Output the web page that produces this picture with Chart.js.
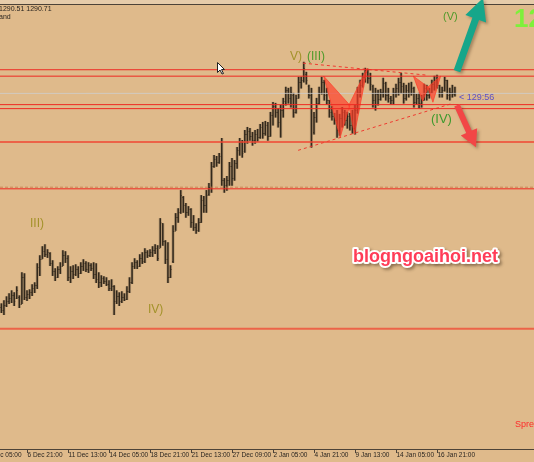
<!DOCTYPE html>
<html>
<head>
<meta charset="utf-8">
<script src="https://cdn.jsdelivr.net/npm/chart.js@4.4.1/dist/chart.umd.min.js"></script>
<style>
html, body { margin: 0; padding: 0; background: #dfba8b; overflow: hidden; }
canvas { display: block; }
</style>
</head>
<body>
<canvas id="chart" width="534" height="462"></canvas>
<script>
// ---------------------------------------- data (gold H4, bar index counted from 4 Dec 05:00) ----------------------------------------
const firstBar = 6;

const opens = [
    1239.5, 1238.75, 1240, 1241, 1241.75, 1242.5, 1241.75, 1242, 1240.25, 1247,
    1242, 1242.75, 1243.25, 1244.25, 1245, 1249.5, 1251.5, 1253.5, 1252.75, 1253,
    1250.5, 1248.5, 1247, 1249, 1249.75, 1252.5, 1251.75, 1247, 1248.5, 1247.75,
    1249, 1248, 1249.75, 1250.5, 1249, 1250, 1249.25, 1247.75, 1246.5, 1245.75,
    1246.75, 1246, 1245.25, 1244.25, 1244.75, 1241, 1242.25, 1241, 1242, 1241.5,
    1243.5, 1245.75, 1249.75, 1250.75, 1249.75, 1251.75, 1251, 1253.25, 1252.5, 1253.25,
    1253.75, 1254.25, 1254.25, 1260.25, 1256, 1251.5, 1247, 1251, 1258.5, 1261.75,
    1263, 1266.75, 1264.75, 1263, 1263.75, 1260.5, 1259.5, 1258.75, 1260.5, 1266,
    1264.75, 1267.5, 1269.25, 1274.5, 1276.25, 1275.5, 1277, 1271, 1269.75, 1271,
    1274.5, 1271.5, 1275.25, 1278.5, 1280.5, 1278.25, 1282.5, 1283.25, 1282, 1281,
    1282.5, 1281.75, 1284.25, 1282.75, 1284.75, 1282, 1287.25, 1289.5, 1288, 1285.5,
    1288.5, 1290.75, 1293.5, 1291.5, 1292.25, 1288, 1291.5, 1295.5, 1296, 1297.5,
    1294.5, 1292.25, 1283, 1286.75, 1290.25, 1293, 1295.5, 1292.25, 1291, 1288,
    1287, 1286, 1283.5, 1286.5, 1288, 1286, 1287, 1284.75, 1284, 1288.5,
    1293, 1294.75, 1296.75, 1298, 1296.5, 1294.5, 1291, 1292.5, 1291.25, 1293,
    1295.25, 1292.25, 1291.5, 1291, 1293, 1294, 1295.5, 1294.5, 1291.5, 1293.5,
    1292.75, 1294, 1290.5, 1291.5, 1290.25, 1291, 1294, 1292.25, 1293, 1295,
    1296, 1294.75, 1293, 1293.5, 1296, 1292.25, 1293, 1292.5
];
const highs = [
    1240.25, 1241, 1242, 1242.75, 1243.5, 1243, 1244.5, 1242.25, 1248, 1247.75,
    1243.5, 1243.75, 1245, 1245.5, 1250.25, 1252.25, 1254.5, 1255, 1253.75, 1253,
    1251, 1249, 1249.5, 1250.5, 1253.5, 1253.25, 1252.25, 1249.5, 1249.75, 1250,
    1249.5, 1250.5, 1251.25, 1250.75, 1250.5, 1250.25, 1250.5, 1250.25, 1248, 1247.25,
    1247, 1246.75, 1246, 1246.25, 1244.75, 1243.5, 1243, 1243.25, 1242.75, 1244.5,
    1246.75, 1250.5, 1251.5, 1251, 1252.5, 1253, 1254, 1253.5, 1253.75, 1254.5,
    1255, 1254.75, 1261.5, 1260.25, 1256, 1255.5, 1249.75, 1259.75, 1262.75, 1264,
    1268.5, 1267, 1265.25, 1264.5, 1264, 1262.25, 1260.25, 1261.5, 1267.25, 1267,
    1268.5, 1270.25, 1275.5, 1277.25, 1277, 1277.75, 1281.5, 1271.5, 1272, 1275.5,
    1276.5, 1276, 1279.25, 1281.5, 1281, 1283.5, 1284.25, 1284, 1283, 1283.5,
    1283.75, 1285, 1285.5, 1285.75, 1285.5, 1288, 1290.5, 1290.25, 1289, 1289.75,
    1291.5, 1294.25, 1294, 1294.25, 1292.75, 1292.25, 1296.75, 1296.75, 1300.5, 1298,
    1294.75, 1294, 1288, 1291.5, 1294.25, 1296.75, 1296, 1294, 1291, 1289.5,
    1287.75, 1288.5, 1287.5, 1289.25, 1288.5, 1288, 1287.75, 1288.5, 1289.75, 1294.25,
    1296, 1297.75, 1299, 1298.75, 1297.75, 1294.75, 1294, 1293.5, 1293.75, 1296.5,
    1295.5, 1294, 1292, 1294, 1295, 1296.5, 1297.75, 1295.25, 1294.75, 1295.25,
    1295.5, 1294.25, 1292.5, 1292.75, 1292.25, 1295, 1294.75, 1294, 1296, 1297,
    1297.25, 1294.75, 1294.25, 1296.75, 1296, 1294, 1294.75, 1294.25
];
const lows = [
    1238, 1237.5, 1239.5, 1240.25, 1240.5, 1239.75, 1241.5, 1239.25, 1240.25, 1241.25,
    1241, 1241.5, 1242.25, 1243, 1244, 1247.25, 1251.5, 1252, 1251.75, 1249.75,
    1247.25, 1246, 1246.75, 1247.75, 1249.75, 1250.5, 1246, 1245.5, 1246.5, 1247.25,
    1246.75, 1247.75, 1248.5, 1248.25, 1248, 1248.5, 1246.5, 1245.5, 1244.25, 1244.5,
    1245.25, 1244.75, 1243.5, 1243.5, 1237.5, 1240.25, 1239.75, 1240.5, 1241, 1241.25,
    1243, 1245.25, 1249, 1249, 1249.5, 1250.25, 1250.5, 1251.75, 1252, 1252,
    1252.75, 1251, 1254.25, 1254.75, 1250.25, 1245.5, 1246.75, 1250.5, 1258.5, 1260.5,
    1262.75, 1263, 1261.75, 1262.25, 1259.25, 1258.5, 1257.75, 1258.25, 1260.5, 1263,
    1263, 1267.25, 1268, 1274.25, 1274.5, 1275.25, 1269.75, 1268, 1268.5, 1269.75,
    1269.75, 1271, 1274, 1277.25, 1276.75, 1278, 1280.25, 1281, 1279.75, 1280.25,
    1280.75, 1281.5, 1281.5, 1282.25, 1281, 1282, 1284.75, 1286.75, 1284.25, 1281.75,
    1286.75, 1289.75, 1290.25, 1289.25, 1286.75, 1287.75, 1291.5, 1294, 1295.5, 1295,
    1291.5, 1279.25, 1282.5, 1285.5, 1290, 1292.5, 1291, 1290, 1286.75, 1286,
    1285, 1281.75, 1282.25, 1284.25, 1284.75, 1284, 1283.5, 1282.75, 1282.5, 1287.75,
    1291.75, 1294.25, 1295.5, 1295.25, 1293.5, 1289.25, 1288.5, 1289.75, 1291, 1291.75,
    1291, 1290.5, 1290, 1290, 1291.75, 1292.25, 1292.75, 1290.25, 1291, 1291.75,
    1292.25, 1289.25, 1290, 1289, 1289.25, 1291, 1291, 1291.5, 1292.75, 1293.5,
    1294, 1291.75, 1291.75, 1293.25, 1291.25, 1291, 1291.75, 1292
];
const closes = [
    1238.75, 1240, 1241, 1241.75, 1242.5, 1241, 1243.75, 1240.25, 1247, 1242,
    1242.75, 1243.25, 1244.25, 1245, 1249.5, 1251.5, 1253.5, 1252.75, 1253.25, 1250.5,
    1248.5, 1247, 1249, 1249.75, 1252.5, 1251.75, 1247, 1248.5, 1247.75, 1249,
    1248, 1249.75, 1250.5, 1249, 1250, 1249.25, 1247.75, 1246.5, 1245.75, 1246.75,
    1246, 1245.25, 1244.25, 1244.75, 1241, 1242.25, 1241, 1242, 1241.5, 1243.5,
    1245.75, 1249.75, 1250.75, 1249.75, 1251.75, 1251, 1253.25, 1252.5, 1253.25, 1253.75,
    1254.25, 1251.75, 1260.5, 1256, 1251.5, 1247, 1249, 1258.5, 1261.75, 1263,
    1267.25, 1264.75, 1263, 1263.75, 1260.5, 1259.5, 1258.75, 1260.5, 1266, 1264.75,
    1267.25, 1269.25, 1274.5, 1276.25, 1275.5, 1277, 1271, 1269.75, 1271, 1274.5,
    1271.5, 1275.25, 1278.5, 1280.5, 1277.75, 1282.5, 1283.25, 1282, 1281, 1282.5,
    1281.75, 1284.25, 1282.75, 1284.75, 1282, 1287.25, 1289.5, 1288, 1285.5, 1288.5,
    1290.75, 1293.5, 1291.5, 1293, 1288, 1291.5, 1295.5, 1296, 1299, 1296,
    1292.25, 1280.5, 1286.75, 1290.25, 1293, 1295.5, 1292.25, 1291, 1288, 1287,
    1286, 1283.5, 1286.5, 1288, 1286, 1287, 1284.75, 1284, 1288.5, 1293,
    1294.75, 1296.75, 1298, 1296.5, 1295, 1291, 1292.5, 1291.25, 1293, 1295.25,
    1292.25, 1291.5, 1291, 1293, 1294, 1295.5, 1294.5, 1291.5, 1293.5, 1292.75,
    1294, 1290.5, 1291.5, 1290.25, 1291, 1294, 1292.25, 1293, 1295, 1296,
    1294.75, 1293, 1293.5, 1296, 1292.25, 1293, 1292.5, 1292.75
];

// time axis
const tickIdx = [0, 16, 32, 48, 64, 80, 96, 112, 128, 144, 160, 176];
const tickLabels = ['4 Dec 05:00', '6 Dec 21:00', '11 Dec 13:00', '14 Dec 05:00', '18 Dec 21:00', '21 Dec 13:00',
    '27 Dec 09:00', '2 Jan 05:00', '4 Jan 21:00', '9 Jan 13:00', '14 Jan 05:00', '16 Jan 21:00'];

// horizontal levels drawn on the chart
const levels = [1298.6, 1297.0, 1289.9, 1288.9, 1280.6, 1268.9, 1234.0];
const dashedLevel = 1269.3;
const bidLevel = 1292.7;

// triangle (dashed trend lines) as [barIndex, price]
const triUpper = [[123.7, 1300.25], [172.1, 1297.25]];
const triLower = [[121.8, 1278.5], [182.3, 1290.25]];

// harmonic pattern triangles
const patternA1 = [[131.8, 1297.0], [138.2, 1281.75], [142.0, 1289.75]];
const patternA2 = [[141.6, 1289.75], [143.8, 1282.5], [148.8, 1299.0]];
const patternB1 = [[166.8, 1297.0], [170.4, 1290.75], [172.6, 1294.25]];
const patternB2 = [[172.4, 1294.25], [174.4, 1290.5], [177.4, 1297.0]];

// arrows [from, to] as [barIndex, price]
const upArrow = [[183.8, 1298.25], [194.0, 1316.5]];
const downArrow = [[183.8, 1289.75], [191.2, 1279.25]];

// ---------------------------------------- chart ----------------------------------------
const xMin = 14 / 2.5625;
const xMax = 548 / 2.5625;

const barIdx = opens.map((_, k) => firstBar + k);
const rangeData = barIdx.map((x, k) => ({ x: x, y: [lows[k], highs[k]] }));

const toPts = arr => arr.map(p => ({ x: p[0], y: p[1] }));
const closed = arr => toPts(arr.concat([arr[0]]));

const datasets = [];

// bars: soft shadow + dark core
datasets.push({
    type: 'bar', data: rangeData, grouped: false, barThickness: 2.5,
    backgroundColor: 'rgba(95, 80, 60, 0.28)', borderWidth: 0, order: 10
});
datasets.push({
    type: 'bar', data: rangeData, grouped: false, barThickness: 0.9,
    backgroundColor: '#33291c', borderWidth: 0, order: 9
});

// levels
levels.forEach((lv, k) => {
    const soft = (k === 4 || k === 6);
    datasets.push({
        type: 'line', data: [{ x: xMin, y: lv }, { x: xMax, y: lv }],
        borderColor: soft ? 'rgba(240, 70, 50, 0.75)' : '#ee2a22',
        borderWidth: soft ? 2 : 1, pointRadius: 0, order: 2
    });
});
datasets.push({
    type: 'line', data: [{ x: xMin, y: dashedLevel }, { x: xMax, y: dashedLevel }],
    borderColor: 'rgba(200, 120, 70, 0.8)', borderWidth: 1, borderDash: [3, 2], pointRadius: 0, order: 2
});
datasets.push({
    type: 'line', data: [{ x: xMin, y: bidLevel }, { x: xMax, y: bidLevel }],
    borderColor: 'rgba(205, 205, 205, 0.8)', borderWidth: 1, pointRadius: 0, order: 8
});

// dashed triangle
[triUpper, triLower].forEach(t => {
    datasets.push({
        type: 'line', data: toPts(t), borderColor: '#f03a30', borderWidth: 1,
        borderDash: [3, 3], pointRadius: 0, order: 2
    });
});

// patterns
[patternA1, patternA2, patternB1, patternB2].forEach(t => {
    datasets.push({
        type: 'line', data: closed(t), borderWidth: 1, borderColor: 'rgba(255, 60, 40, 0.7)',
        backgroundColor: 'rgba(255, 60, 40, 0.68)', fill: 'shape', pointRadius: 0, order: 3
    });
});

function arrow(ctx, x1, y1, x2, y2, w, head, hw, color) {
    const a = Math.atan2(y2 - y1, x2 - x1);
    const len = Math.hypot(x2 - x1, y2 - y1);
    ctx.save();
    ctx.translate(x1, y1);
    ctx.rotate(a);
    ctx.shadowColor = 'rgba(60, 40, 20, 0.35)';
    ctx.shadowBlur = 3;
    ctx.shadowOffsetX = 2;
    ctx.shadowOffsetY = 2;
    ctx.fillStyle = color;
    ctx.beginPath();
    ctx.moveTo(0, -w / 2);
    ctx.lineTo(len - head, -w / 2);
    ctx.lineTo(len - head, -hw);
    ctx.lineTo(len, 0);
    ctx.lineTo(len - head, hw);
    ctx.lineTo(len - head, w / 2);
    ctx.lineTo(0, w / 2);
    ctx.closePath();
    ctx.fill();
    ctx.restore();
}

const background = {
    id: 'background',
    beforeDraw(chart) {
        const ctx = chart.ctx;
        ctx.save();
        ctx.fillStyle = '#dfba8b';
        ctx.fillRect(0, 0, chart.width, chart.height);
        ctx.fillStyle = '#e6ccaa';
        ctx.fillRect(0, 0, chart.width, 4);
        ctx.restore();
    }
};

const overlay = {
    id: 'overlay',
    afterDatasetDraw(chart, args) {
        // open / close ticks next to the core bars
        if (args.index !== 1) return;
        const ctx = chart.ctx, xs = chart.scales.x, ys = chart.scales.y;
        ctx.save();
        ctx.strokeStyle = 'rgba(51, 41, 28, 0.8)';
        ctx.lineWidth = 1;
        ctx.beginPath();
        barIdx.forEach((v, k) => {
            const px = xs.getPixelForValue(v);
            const po = Math.round(ys.getPixelForValue(opens[k])) + 0.5;
            const pc = Math.round(ys.getPixelForValue(closes[k])) + 0.5;
            ctx.moveTo(px - 1, po); ctx.lineTo(px, po);
            ctx.moveTo(px, pc); ctx.lineTo(px + 1, pc);
        });
        ctx.stroke();
        ctx.restore();
    },
    afterDraw(chart) {
        const ctx = chart.ctx, xs = chart.scales.x, ys = chart.scales.y, ca = chart.chartArea;
        const px = p => [xs.getPixelForValue(p[0]), ys.getPixelForValue(p[1])];
        ctx.save();

        // frame lines
        ctx.strokeStyle = '#4d4338';
        ctx.lineWidth = 1;
        ctx.beginPath();
        ctx.moveTo(0, 4.5); ctx.lineTo(chart.width, 4.5);
        ctx.moveTo(0, ca.bottom + 0.5); ctx.lineTo(chart.width, ca.bottom + 0.5);
        ctx.stroke();

        // time axis
        ctx.font = '6.5px "Liberation Sans", sans-serif';
        ctx.fillStyle = '#2a2520';
        ctx.textAlign = 'left';
        ctx.textBaseline = 'middle';
        tickIdx.forEach((v, k) => {
            const x = Math.round(xs.getPixelForValue(v)) + 0.5;
            ctx.beginPath();
            ctx.moveTo(x, ca.bottom); ctx.lineTo(x, ca.bottom + 4);
            ctx.stroke();
            ctx.fillText(tickLabels[k], x, ca.bottom + 6.5);
        });

        // header text
        ctx.font = '7px "Liberation Sans", sans-serif';
        ctx.textBaseline = 'alphabetic';
        ctx.fillText('1290.51 1290.71', -1, 11);
        ctx.fillText('and', -1, 19);

        // arrows
        let a = px(upArrow[0]), b = px(upArrow[1]);
        arrow(ctx, a[0], a[1], b[0], b[1], 7, 22, 11, '#16a68a');
        a = px(downArrow[0]); b = px(downArrow[1]);
        arrow(ctx, a[0], a[1], b[0], b[1], 6, 17, 9, '#f24646');

        // wave labels
        ctx.font = '12px "Liberation Sans", sans-serif';
        ctx.fillStyle = '#a3922a';
        ctx.fillText('V)', 290, 60);
        ctx.fillText('III)', 30, 227);
        ctx.fillText('IV)', 148, 313);
        ctx.fillStyle = '#4f9a2a';
        ctx.fillText('(III)', 307, 60);
        ctx.font = '11px "Liberation Sans", sans-serif';
        ctx.fillText('(V)', 443, 20);
        ctx.font = '13px "Liberation Sans", sans-serif';
        ctx.fillStyle = '#3e9a2e';
        ctx.fillText('(IV)', 431, 123);

        ctx.font = 'bold 26px "Liberation Sans", sans-serif';
        ctx.fillStyle = '#7ef03a';
        ctx.fillText('12', 514, 27);

        ctx.font = '9px "Liberation Sans", sans-serif';
        ctx.fillStyle = '#5b4fc8';
        ctx.fillText('< 129:56', 459, 100);

        ctx.fillStyle = '#ff2a2a';
        ctx.fillText('Spread', 515, 427);

        // watermark
        ctx.font = 'bold 18px "Liberation Sans", sans-serif';
        ctx.lineJoin = 'round';
        ctx.shadowColor = 'rgba(60, 40, 20, 0.45)';
        ctx.shadowBlur = 3;
        ctx.shadowOffsetX = 2;
        ctx.shadowOffsetY = 2;
        ctx.strokeStyle = '#ffffff';
        ctx.lineWidth = 4;
        ctx.strokeText('blogngoaihoi.net', 353, 262);
        ctx.shadowColor = 'transparent';
        ctx.fillStyle = '#ff3d58';
        ctx.fillText('blogngoaihoi.net', 353, 262);

        // mouse pointer
        ctx.fillStyle = '#ffffff';
        ctx.strokeStyle = '#222222';
        ctx.lineWidth = 1;
        ctx.beginPath();
        ctx.moveTo(217.5, 62.5); ctx.lineTo(217.5, 72.5); ctx.lineTo(220, 70); ctx.lineTo(222, 74);
        ctx.lineTo(223.5, 73.5); ctx.lineTo(221.5, 69.5); ctx.lineTo(224.5, 69.5); ctx.closePath();
        ctx.fill(); ctx.stroke();

        ctx.restore();
    }
};

new Chart('chart', {
    type: 'bar',
    data: { datasets: datasets },
    options: {
        responsive: false,
        animation: false,
        events: [],
        layout: { padding: { top: 4, bottom: 13, left: 0, right: 0 } },
        plugins: { legend: { display: false }, tooltip: { enabled: false } },
        scales: {
            x: { type: 'linear', display: false, min: xMin, max: xMax, offset: false },
            y: { display: false, min: 1204, max: 1315 }
        }
    },
    plugins: [background, overlay]
});
</script>
</body>
</html>
